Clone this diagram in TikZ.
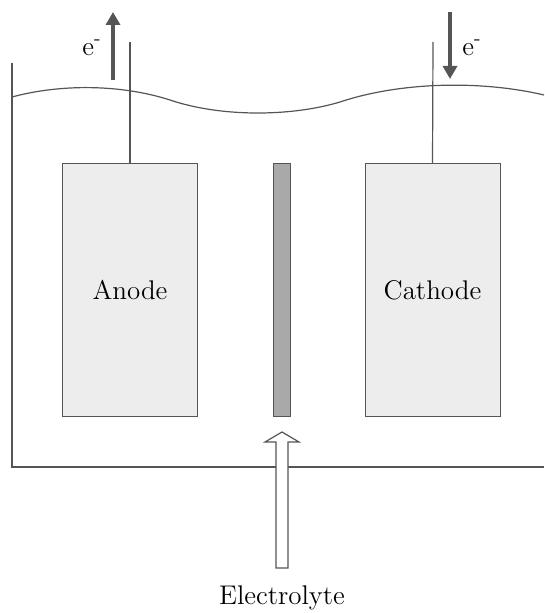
\documentclass[tikz,border=0pt]{standalone}
\usetikzlibrary{arrows.meta}
\definecolor{linegray}{HTML}{555555}
\definecolor{boxfill}{HTML}{EDEDED}
\definecolor{sepfill}{HTML}{A9A9A9}
\begin{document}
\begin{tikzpicture}[x=0.5pt, y=-0.5pt,
    electrode/.style={draw=linegray, fill=boxfill, line width=0.5pt,
        minimum width=67.5pt, minimum height=126pt, inner sep=0pt,
        font=\fontsize{13.5}{16}\selectfont},
    wire/.style={draw=linegray, line width=0.6pt},
    flow/.style={draw=linegray, line width=2pt, -{Triangle[width=7pt,length=6.5pt]}},
    tank/.style={draw=linegray, line width=1.1pt},
    lbl/.style={font=\fontsize{13.5}{16}\selectfont, inner sep=0pt}]
    \useasboundingbox (0,0) rectangle (544,613);

    % tank and electrolyte surface
    \draw[tank] (12,63) -- (12,467) -- (544,467);
    \draw[wire] (12,97) .. controls (60,84) and (120,84) .. (170,100)
        .. controls (220,117) and (290,117) .. (340,102)
        .. controls (400,82) and (480,80) .. (544,95);

    % electrodes and separator
    \node[electrode] (anode) at (130,290) {Anode};
    \node[electrode] (cathode) at (432.5,290) {Cathode};
    \node[draw=linegray, fill=sepfill, line width=0.5pt, minimum width=8.5pt,
        minimum height=126pt, inner sep=0pt] (sep) at (281.5,290) {};

    % leads
    \coordinate (atop) at (130,42);
    \coordinate (ctop) at (433,42);
    \draw[wire] (anode.north) -- (atop);
    \draw[wire] (cathode.north) -- (ctop);

    % electron flow
    \coordinate (aout1) at (113,80);
    \coordinate (aout2) at (113,12);
    \coordinate (cin1) at (450,12);
    \coordinate (cin2) at (450,79);
    \draw[flow] (aout1) -- (aout2);
    \draw[flow] (cin1) -- (cin2);
    \node[lbl] (eout) at (92,48) {e\textsuperscript{-}};
    \node[lbl] (ein) at (472,48) {e\textsuperscript{-}};

    % electrolyte feed
    \draw[draw=linegray, fill=white, line width=0.6pt]
        (276,568) -- (276,442) -- (265,442) -- (282,432) -- (299,442)
        -- (288,442) -- (288,568) -- cycle;
    \node[lbl] (feed) at (282,598) {Electrolyte};
\end{tikzpicture}
\end{document}
